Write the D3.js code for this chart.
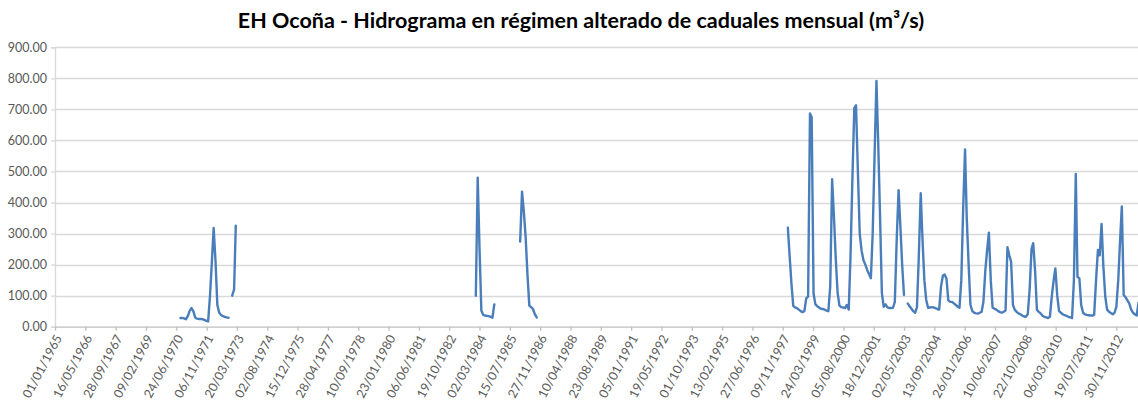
<!DOCTYPE html>
<html>
<head>
<meta charset="utf-8">
<script src="https://cdn.jsdelivr.net/npm/d3@7"></script>
<style>
  body { margin: 0; background: #fff; }
  svg { display: block; font-family: Lato, "Open Sans", sans-serif; }
</style>
</head>
<body>
<div id="chart"></div>
<script>
// chart title
const title = 'EH Ocoña - Hidrograma en régimen alterado de caduales mensual (m³/s)'

// x axis labels (every 500 days) and y axis ticks
const xTickLabels = ['01/01/1965', '16/05/1966', '28/09/1967', '09/02/1969', '24/06/1970', '06/11/1971',
    '20/03/1973', '02/08/1974', '15/12/1975', '28/04/1977', '10/09/1978', '23/01/1980', '06/06/1981',
    '19/10/1982', '02/03/1984', '15/07/1985', '27/11/1986', '10/04/1988', '23/08/1989', '05/01/1991',
    '19/05/1992', '01/10/1993', '13/02/1995', '27/06/1996', '09/11/1997', '24/03/1999', '05/08/2000',
    '18/12/2001', '02/05/2003', '13/09/2004', '26/01/2006', '10/06/2007', '22/10/2008', '06/03/2010',
    '19/07/2011', '30/11/2012']
const yTicks = [0, 100, 200, 300, 400, 500, 600, 700, 800, 900]
const xEnd = '01/12/2013'

// monthly flows (m3/s), each block starts at the month given; null = missing month
const startA = '01/09/1970'
const flowsA = [28, 28, 27, 24, 35, 52, 60, 50, 30, 26, 25, 25, 24, 22, 19, 17,
    100, 210, 318, 210, 70, 45, 38, 34, 32, 30, 29, null, 100, 120, 325]

const startB = '01/01/1984'
const flowsB = [100, 480, 260, 52, 38, 36, 35, 34, 32, 29, 72]

const startC = '01/01/1986'
const flowsC = [274, 435, 375, 290, 170, 68, 63, 57, 40, 30]

const startD = '01/02/1998'
const flowsD = [319, 232, 140, 67, 62, 60, 55, 50, 47, 50, 91, 97,
    687, 675, 107, 72, 66, 62, 58, 57, 55, 52, 50, 130,
    475, 360, 220, 110, 68, 63, 62, 60, 70, 55, 230, 480,
    705, 713, 500, 300, 245, 215, 200, 183, 170, 156, 300, 550,
    792, 600, 360, 110, 64, 72, 62, 60, 60, 61, 80, 280,
    440, 330, 200, 102, null, 75, 66, 58, 50, 45, 62, 230,
    430, 284, 150, 87, 61, 62, 63, 62, 60, 57, 55, 130,
    165, 168, 155, 85, 80, 80, 75, 70, 65, 61, 150, 380,
    571, 350, 200, 70, 50, 45, 43, 42, 45, 48, 80, 180,
    250, 303, 150, 62, 58, 55, 50, 47, 45, 48, 52, 256,
    230, 210, 70, 54, 48, 43, 40, 36, 33, 32, 40, 120,
    250, 269, 180, 54, 48, 43, 35, 32, 30, 28, 32, 97,
    150, 188, 100, 50, 45, 40, 37, 35, 32, 30, 28, 150,
    492, 160, 156, 70, 45, 40, 38, 37, 36, 36, 38, 150,
    247, 230, 331, 193, 97, 55, 48, 44, 40, 45, 64, 150,
    280, 387, 102, 95, 85, 75, 56, 45, 40, 36, 77]

const w = 1138
const h = 401
const pLeft = 55
const pRight = 1138.5
const pTop = 47.3
const pBottom = 326.7

const parse = d3.utcParse('%d/%m/%Y')
const fmt = d3.utcFormat('%d/%m/%Y')

// turn a block into dated points
function toPoints(start, values) {
    const d0 = parse(start)
    return values.map((v, i) => ({ date: d3.utcMonth.offset(d0, i), value: v }))
}
const blocks = [
    toPoints(startA, flowsA),
    toPoints(startB, flowsB),
    toPoints(startC, flowsC),
    toPoints(startD, flowsD)
]

const xScale = d3.scaleUtc()
    .domain([parse(xTickLabels[0]), parse(xEnd)])
    .range([pLeft, pRight])

const yScale = d3.scaleLinear()
    .domain([0, 900])
    .range([pBottom, pTop])

const svg = d3.select('#chart')
    .append('svg')
    .attr('width', w)
    .attr('height', h)

// title
svg.append('text')
    .attr('x', 581)
    .attr('y', 28)
    .attr('text-anchor', 'middle')
    .attr('font-size', 21.5)
    .attr('font-weight', 'bold')
    .attr('fill', '#000')
    .text(title)

// horizontal gridlines
svg.append('g')
    .selectAll('line')
    .data(yTicks.filter(d => d > 0))
    .enter()
    .append('line')
    .attr('x1', pLeft)
    .attr('x2', w)
    .attr('y1', d => Math.round(yScale(d)) + 0.5)
    .attr('y2', d => Math.round(yScale(d)) + 0.5)
    .attr('stroke', '#d9d9d9')
    .attr('stroke-width', 1.3)

// y axis
const yAxis = d3.axisLeft(yScale)
    .tickValues(yTicks)
    .tickFormat(d3.format('.2f'))
    .tickSize(4)
    .tickPadding(4)

const gy = svg.append('g')
    .attr('id', 'y-axis')
    .attr('transform', 'translate(' + pLeft + ',0)')
    .call(yAxis)
gy.select('.domain').attr('stroke', '#d9d9d9').attr('stroke-width', 1.3)
gy.selectAll('.tick line').attr('stroke', '#d9d9d9').attr('stroke-width', 1.3)
gy.selectAll('.tick text')
    .attr('font-family', 'Lato, sans-serif')
    .attr('font-size', 12.5)
    .attr('fill', '#595959')

// x axis
const xAxis = d3.axisBottom(xScale)
    .tickValues(xTickLabels.map(parse))
    .tickFormat(fmt)
    .tickSize(4)
    .tickSizeOuter(0)

const gx = svg.append('g')
    .attr('id', 'x-axis')
    .attr('transform', 'translate(0,' + pBottom + ')')
    .call(xAxis)
gx.select('.domain').attr('stroke', '#bfbfbf').attr('stroke-width', 1.3)
gx.selectAll('.tick line').attr('stroke', '#bfbfbf').attr('stroke-width', 1.3)
gx.selectAll('.tick text')
    .attr('font-family', 'Lato, sans-serif')
    .attr('font-size', 12.5)
    .attr('fill', '#595959')
    .attr('text-anchor', 'end')
    .attr('x', 0)
    .attr('y', 0)
    .attr('dy', '0.35em')
    .attr('transform', 'translate(3,9) rotate(-62)')

// flow line
const line = d3.line()
    .defined(d => d.value !== null)
    .x(d => xScale(d.date))
    .y(d => yScale(d.value))

svg.append('g')
    .selectAll('path')
    .data(blocks)
    .enter()
    .append('path')
    .attr('d', line)
    .attr('fill', 'none')
    .attr('stroke', '#4a7ebb')
    .attr('stroke-width', 2.4)
    .attr('stroke-linejoin', 'round')
    .attr('stroke-linecap', 'round')
</script>
</body>
</html>
